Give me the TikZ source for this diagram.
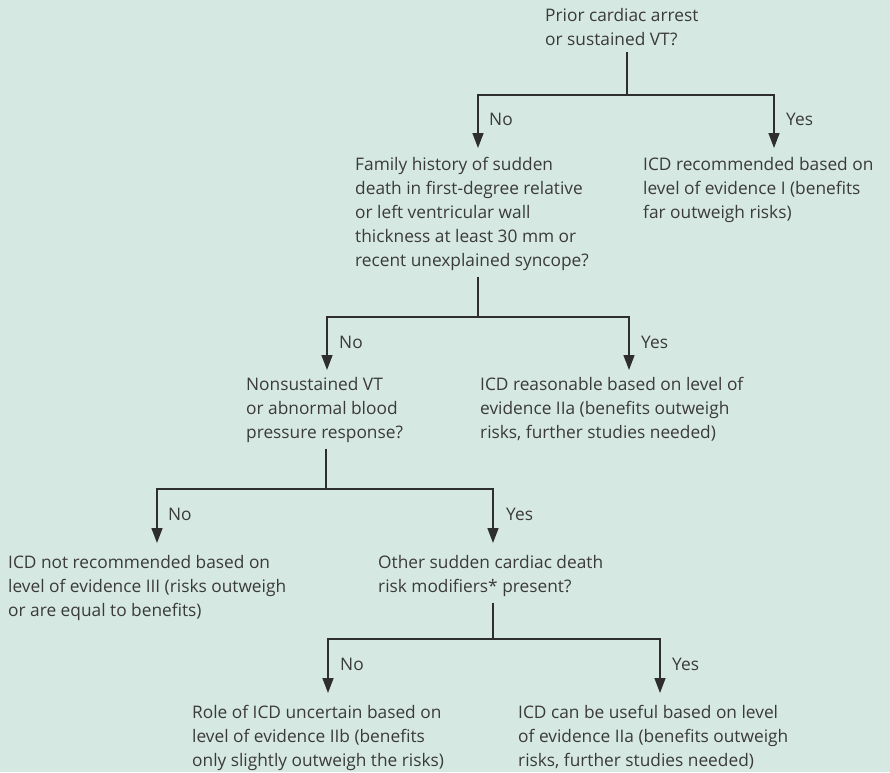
\documentclass[tikz,border=0pt]{standalone}
\usepackage{fontspec}
\setmainfont{Open Sans}
\usepackage{tikz}
\usetikzlibrary{calc, arrows.meta}
\usepackage{xcolor}
\definecolor{bgmint}{HTML}{D6E8E2}
\definecolor{inkgray}{HTML}{3A3A3A}
\definecolor{linegray}{HTML}{2E2E2E}

\begin{document}
\begin{tikzpicture}[x=1pt, y=-1pt]

        % Styles for texts and connectors
        \tikzset{txt/.style={anchor=north west, inner sep=0pt, align=left, text=inkgray,
                             font=\fontsize{17.3}{24}\selectfont},
                 lbl/.style={anchor=base west, inner sep=0pt, text=inkgray,
                             font=\fontsize{17.3}{24}\selectfont},
                 wire/.style={draw=linegray, line width=1.5pt},
                 arr/.style={wire, -{Triangle[length=15pt, width=11pt]}}}

        % Background and size
        \fill[bgmint] (0,0) rectangle (890,772);
        \useasboundingbox (0,0) rectangle (890,772);

        % =================================================================
        % 1. Questions and outcomes
        % =================================================================

        \node[txt] (q1) at (545,8) {Prior cardiac arrest\\or sustained VT?};
        \node[txt] (q2) at (355,157) {Family history of sudden\\death in first-degree relative\\or left ventricular wall\\thickness at least 30 mm or\\recent unexplained syncope?};
        \node[txt] (r1) at (643,157) {ICD recommended based on\\level of evidence I (benefits\\far outweigh risks)};
        \node[txt] (q3) at (246,377) {Nonsustained VT\\or abnormal blood\\pressure response?};
        \node[txt] (r2) at (480,377) {ICD reasonable based on level of\\evidence IIa (benefits outweigh\\risks, further studies needed)};
        \node[txt] (r3) at (8,555) {ICD not recommended based on\\level of evidence III (risks outweigh\\or are equal to benefits)};
        \node[txt] (q4) at (378,555) {Other sudden cardiac death\\risk modifiers* present?};
        \node[txt] (r4) at (192,705) {Role of ICD uncertain based on\\level of evidence IIb (benefits\\only slightly outweigh the risks)};
        \node[txt] (r5) at (518,705) {ICD can be useful based on level\\of evidence IIa (benefits outweigh\\risks, further studies needed)};

        % =================================================================
        % 2. Branches
        % =================================================================

        % Split points
        \coordinate (s1) at (627,95);
        \coordinate (s2) at (478,317);
        \coordinate (s3) at (326,489);
        \coordinate (s4) at (493,639);

        % Prior cardiac arrest
        \draw[wire] (q1.south -| s1) ++(0,6) -- (s1);
        \draw[arr] (s1) -| ($(q2.north west)+(123,-9)$);
        \draw[arr] (s1) -| ($(r1.north west)+(131,-9)$);
        \node[lbl] (n1) at (489,125) {No};
        \node[lbl] (y1) at (786,125) {Yes};

        % Family history
        \draw[wire] (q2.south -| s2) ++(0,6) -- (s2);
        \draw[arr] (s2) -| ($(q3.north west)+(81,-7)$);
        \draw[arr] (s2) -| ($(r2.north west)+(149,-7)$);
        \node[lbl] (n2) at (339,348) {No};
        \node[lbl] (y2) at (641,348) {Yes};

        % Nonsustained VT
        \draw[wire] (q3.south -| s3) ++(0,6) -- (s3);
        \draw[arr] (s3) -| ($(r3.north west)+(149,-12)$);
        \draw[arr] (s3) -| ($(q4.north west)+(115,-12)$);
        \node[lbl] (n3) at (168,520) {No};
        \node[lbl] (y3) at (506,520) {Yes};

        % Other risk modifiers
        \draw[wire] (q4.south -| s4) ++(0,6) -- (s4);
        \draw[arr] (s4) -| ($(r4.north west)+(136,-12)$);
        \draw[arr] (s4) -| ($(r5.north west)+(142,-12)$);
        \node[lbl] (n4) at (340,670) {No};
        \node[lbl] (y4) at (672,670) {Yes};

\end{tikzpicture}
\end{document}
